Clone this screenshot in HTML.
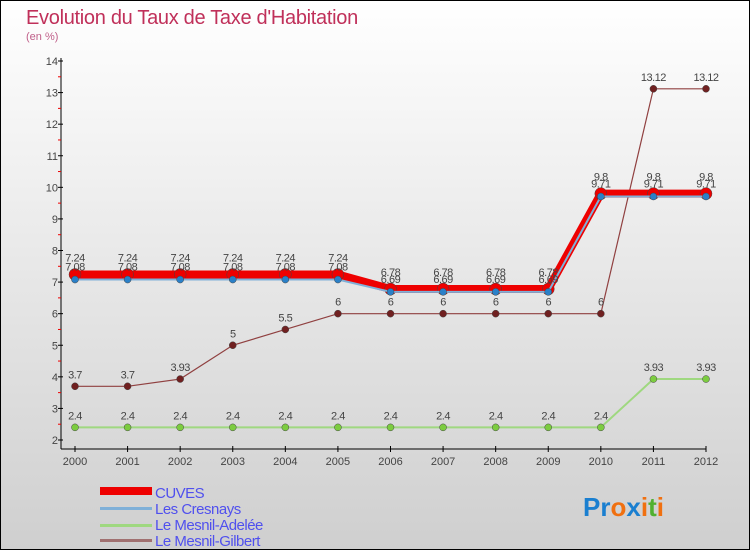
<!DOCTYPE html>
<html><head><meta charset="utf-8"><style>
body{margin:0;width:750px;height:550px;overflow:hidden;font-family:"Liberation Sans",sans-serif}
svg text{font-family:"Liberation Sans",sans-serif}
</style></head><body>
<svg width="750" height="550" xmlns="http://www.w3.org/2000/svg" id="c">
<defs><linearGradient id="bg" x1="0" y1="0" x2="0" y2="1"><stop offset="0" stop-color="#ffffff"/><stop offset="1" stop-color="#cfcfcf"/></linearGradient></defs>
<rect x="0.5" y="0.5" width="749" height="549" fill="url(#bg)" stroke="#000"/>
<text x="26" y="24" font-size="20" fill="#c0305a" letter-spacing="-0.3">Evolution du Taux de Taxe d'Habitation</text>
<text x="26" y="40" font-size="11" fill="#c0608a">(en %)</text>
<g id="axes"></g><g id="series"></g>
<g>
<rect x="100" y="487" width="52" height="8" fill="#e00"/>
<text x="155" y="498" font-size="15" fill="#5050ee" letter-spacing="-0.5">CUVES</text>
<rect x="100" y="507" width="52" height="3" fill="#7fb0d8"/>
<text x="155" y="514" font-size="15" fill="#5050ee" letter-spacing="-0.5">Les Cresnays</text>
<rect x="100" y="524" width="52" height="3" fill="#9fd880"/>
<text x="155" y="530" font-size="15" fill="#5050ee" letter-spacing="-0.5">Le Mesnil-Adelée</text>
<rect x="100" y="539" width="52" height="3" fill="#a07070"/>
<text x="155" y="546" font-size="15" fill="#5050ee" letter-spacing="-0.5">Le Mesnil-Gilbert</text>
</g>
<text x="583" y="516" font-size="26" font-weight="bold"><tspan fill="#1a7fd0">Pr</tspan><tspan fill="#f07010">o</tspan><tspan fill="#1a7fd0">x</tspan><tspan fill="#f07010">i</tspan><tspan fill="#50b030">t</tspan><tspan fill="#f07010">i</tspan></text>
</svg>
<script>
const years=["2000","2001","2002","2003","2004","2005","2006","2007","2008","2009","2010","2011","2012"];
const yTicks=[2,3,4,5,6,7,8,9,10,11,12,13,14];
const cuves=[7.24,7.24,7.24,7.24,7.24,7.24,6.78,6.78,6.78,6.78,9.8,9.8,9.8];
const cresnays=[7.08,7.08,7.08,7.08,7.08,7.08,6.69,6.69,6.69,6.69,9.71,9.71,9.71];
const adelee=[2.4,2.4,2.4,2.4,2.4,2.4,2.4,2.4,2.4,2.4,2.4,3.93,3.93];
const gilbert=[3.7,3.7,3.93,5,5.5,6,6,6,6,6,6,13.12,13.12];
const NS="http://www.w3.org/2000/svg";
const X=i=>75+i*(706-75)/(years.length-1);
const Y=v=>440-(v-2)*(440-61)/12;
function mk(t,a,p){const e=document.createElementNS(NS,t);for(const k in a)e.setAttribute(k,a[k]);p.appendChild(e);return e;}
const ax=document.getElementById('axes'),sr=document.getElementById('series');
let e=mk('line',{x1:61,y1:58,x2:61,y2:449,stroke:'#000'},ax);

e=mk('line',{x1:61,y1:449,x2:706,y2:449,stroke:'#000'},ax);

yTicks.forEach(v=>{mk('line',{x1:58,y1:Y(v),x2:63,y2:Y(v),stroke:'#000'},ax);
 if(v<14)mk('line',{x1:58,y1:Y(v+0.5),x2:61,y2:Y(v+0.5),stroke:'#e00'},ax);
 const t=mk('text',{x:58,y:Y(v)+4,'font-size':11,fill:'#444','text-anchor':'end'},ax);t.textContent=v;
 });
years.forEach((y,i)=>{mk('line',{x1:X(i),y1:446,x2:X(i),y2:452,stroke:'#000'},ax);
 const t=mk('text',{x:X(i),y:465,'font-size':11,fill:'#444','text-anchor':'middle'},ax);t.textContent=y;
 });
function series(name,d,col,w,dotc,r,lblDy){
 const g=mk('g',{},sr);
 const p=mk('polyline',{points:d.map((v,i)=>X(i)+','+Y(v)).join(' '),fill:'none',stroke:col,'stroke-width':w},g);
 
 d.forEach((v,i)=>{const c=mk('circle',{cx:X(i),cy:Y(v),r:r,fill:dotc,stroke:'#444','stroke-width':0.5},g);
  
  const t=mk('text',{x:X(i),y:Y(v)+lblDy,'font-size':11,fill:'#444','text-anchor':'middle','letter-spacing':'-0.5'},g);t.textContent=v;
  });
}
series('mesnil-gilbert',gilbert,'#904040',1.2,'#702020',3.5,-8);
series('mesnil-adelee',adelee,'#9fd880',2,'#7ccc40',3.5,-8);
series('cuves',cuves,'#ee0000',8,'#e00',6,-13);
series('les-cresnays',cresnays,'#7fb0d8',2,'#2a80c8',3.5,-9);
</script>
</body></html>
